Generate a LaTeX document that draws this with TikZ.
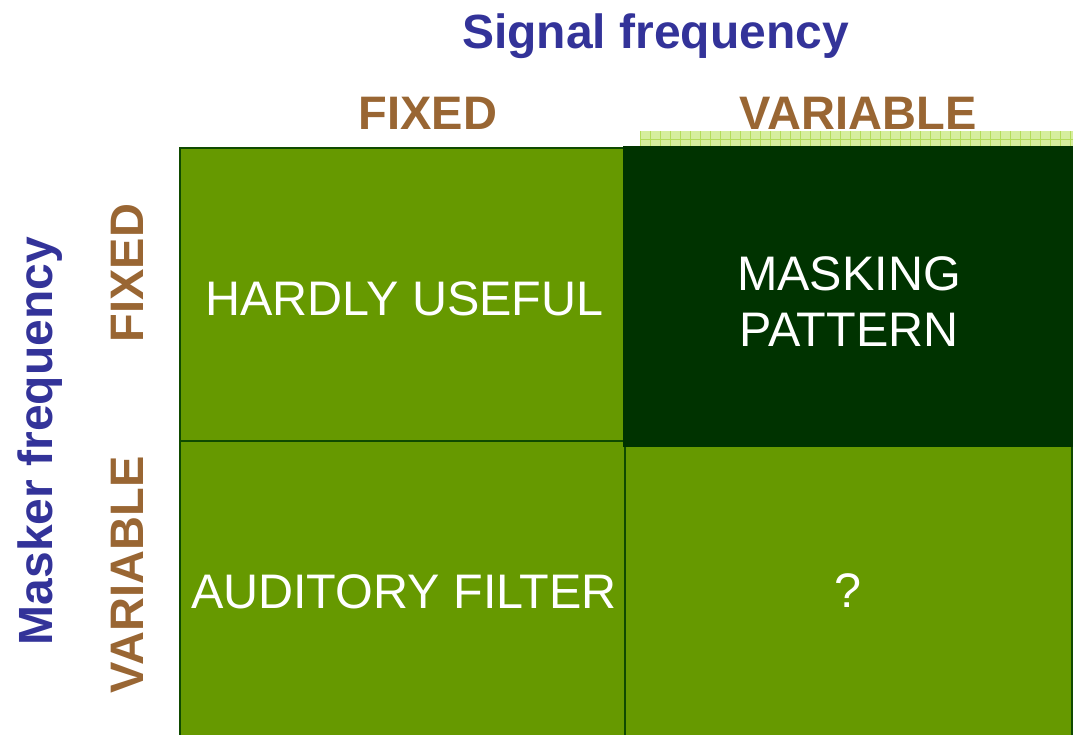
\documentclass[tikz,border=0pt]{standalone}
\usepackage{fontspec}
\setmainfont{Liberation Sans}
\definecolor{cellgreen}{HTML}{669900}
\definecolor{celldark}{HTML}{003300}
\definecolor{celledge}{HTML}{0F4A00}
\definecolor{headbrown}{HTML}{996633}
\definecolor{axisblue}{HTML}{333399}
\definecolor{stripfill}{HTML}{D6EE9E}
\definecolor{stripline}{HTML}{B4DC5A}
\tikzset{
  cell/.style={draw=celledge, line width=1.5pt, fill=cellgreen, inner sep=0pt},
  celltext/.style={text=white, inner sep=0pt, align=center, font=\fontsize{48.5}{56}\selectfont},
  head/.style={text=headbrown, inner sep=0pt, font=\bfseries\fontsize{47}{57}\selectfont},
  axis/.style={text=axisblue, inner sep=0pt, font=\bfseries\fontsize{48}{57}\selectfont}
}
\begin{document}
\begin{tikzpicture}[x=1pt,y=-1pt]
\useasboundingbox (0,0) rectangle (1073,734);
% hatched strip above the top-right cell
\fill[stripfill] (640,131) rectangle (1073,148);
\foreach \i in {0,...,43} {
  \draw[stripline, line width=0.8pt] ({640+\i*10},131) -- ({640+\i*10},148);
}
\draw[stripline, line width=0.8pt] (640,139.5) -- (1073,139.5);
% the four cells (bottom row runs past the lower edge)
\node[cell, minimum width=445pt, minimum height=293pt] (tl) at (402.5,294.5) {};
\node[cell, minimum width=445pt, minimum height=303pt] (bl) at (402.5,592.5) {};
\node[cell, minimum width=447pt, minimum height=298pt] (br) at (848.5,595) {};
\node[cell, draw=celldark, fill=celldark, minimum width=450pt, minimum height=299pt] (tr) at (849,296.5) {};
% cell texts
\node[celltext, anchor=base] (tltext) at (404.5,315) {HARDLY USEFUL};
\node[celltext] (trtext) at (849,302) {MASKING\\PATTERN};
\node[celltext, anchor=base] (bltext) at (404,608) {AUDITORY FILTER};
\node[celltext, anchor=base] (brtext) at (848,607) {?};
% headings
\node[axis, anchor=base] (sig) at (655.5,48) {Signal frequency};
\node[head, anchor=base] (colfix) at (428,129) {FIXED};
\node[head, anchor=base] (colvar) at (858,129) {VARIABLE};
\node[axis, rotate=90] (mask) at (40,441) {Masker frequency};
\node[head, rotate=90] (rowfix) at (127,273) {FIXED};
\node[head, rotate=90] (rowvar) at (127,575) {VARIABLE};
\end{tikzpicture}
\end{document}
